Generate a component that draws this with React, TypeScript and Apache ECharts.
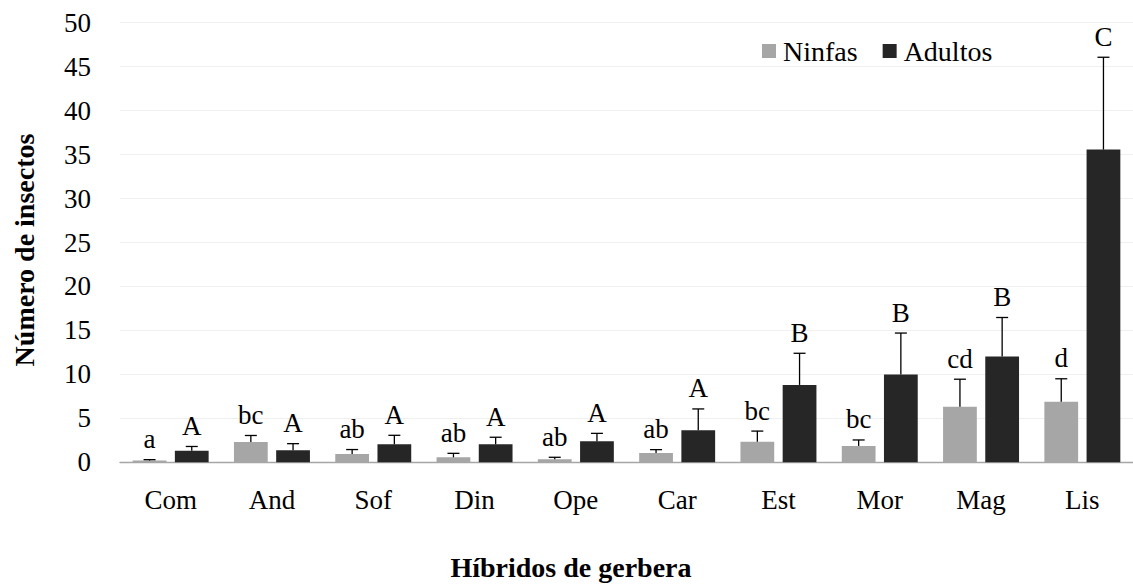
import React, { useEffect, useRef } from "react";
import * as echarts from "echarts";

const categories = ["Com", "And", "Sof", "Din", "Ope", "Car", "Est", "Mor", "Mag", "Lis"];
const ninfas = [0.2, 2.3, 0.95, 0.57, 0.34, 1.06, 2.35, 1.86, 6.33, 6.9];
const ninfasErr = [0.1, 0.75, 0.5, 0.45, 0.23, 0.38, 1.2, 0.68, 3.12, 2.6];
const ninfasLetters = ["a", "bc", "ab", "ab", "ab", "ab", "bc", "bc", "cd", "d"];
const adultos = [1.3, 1.37, 2.05, 2.05, 2.39, 3.64, 8.8, 10.0, 12.03, 35.57];
const adultosErr = [0.5, 0.75, 1.02, 0.8, 0.9, 2.43, 3.6, 4.7, 4.44, 10.5];
const adultosLetters = ["A", "A", "A", "A", "A", "A", "B", "B", "B", "C"];
const yTicks = { min: 0, max: 50, interval: 5 };

const FONT = "Liberation Serif";
const FS = 27;

function makeErrSeries(values: number[], errs: number[], letters: string[], side: number) {
  return {
    type: "custom",
    z: 5,
    silent: true,
    data: values.map((v, i) => [i, v, errs[i]]),
    renderItem: (params: any, api: any) => {
      const idx = api.value(0);
      const v = api.value(1);
      const e = api.value(2);
      const band = api.size([1, 0])[0];
      const barW = (band * 0.75) / 2.25;
      const off = side * (barW * 1.25) / 2;
      const base = api.coord([idx, v]);
      const top = api.coord([idx, v + e]);
      const x = base[0] + off;
      const cap = 6;
      return {
        type: "group",
        children: [
          { type: "line", shape: { x1: x, y1: base[1], x2: x, y2: top[1] }, style: { stroke: "#000", lineWidth: 1.3 } },
          { type: "line", shape: { x1: x - cap, y1: top[1], x2: x + cap, y2: top[1] }, style: { stroke: "#000", lineWidth: 1.3 } },
          {
            type: "text",
            style: {
              text: letters[params.dataIndex],
              x: x,
              y: top[1] - 7,
              align: "center",
              verticalAlign: "bottom",
              fontSize: FS,
              fontFamily: FONT,
              fill: "#000",
            },
          },
        ],
      };
    },
  };
}

export default function App() {
  const ref = useRef<HTMLDivElement>(null);
  useEffect(() => {
    if (!ref.current) return;
    const chart = echarts.init(ref.current, undefined, { renderer: "svg" });
    chart.setOption({
      animation: false,
      backgroundColor: "#fff",
      textStyle: { fontFamily: FONT },
      grid: { left: 120, right: -9, top: 22.7, bottom: 124.7, containLabel: false },
      legend: {
        data: ["Ninfas", "Adultos"],
        left: 762,
        top: 37,
        padding: 0,
        icon: "rect",
        itemWidth: 14,
        itemHeight: 14,
        itemGap: 25,
        textStyle: { fontSize: 28, fontFamily: FONT, color: "#000", padding: [0, 0, 0, 2] },
      },
      xAxis: {
        type: "category",
        data: categories,
        axisTick: { show: false },
        axisLine: { lineStyle: { color: "#a6a6a6", width: 1.3 } },
        axisLabel: { fontSize: FS, fontFamily: FONT, color: "#000", margin: 24 },
      },
      yAxis: {
        type: "value",
        min: yTicks.min,
        max: yTicks.max,
        interval: yTicks.interval,
        axisLine: { show: false },
        axisTick: { show: false },
        splitLine: { lineStyle: { color: "#efefef", width: 1 } },
        axisLabel: { fontSize: FS, fontFamily: FONT, color: "#000", margin: 29 },
      },
      graphic: [
        {
          type: "text",
          x: 571,
          y: 567,
          style: {
            text: "Híbridos de gerbera",
            align: "center",
            verticalAlign: "middle",
            fontSize: 28,
            fontWeight: "bold",
            fontFamily: FONT,
            fill: "#000",
          },
        },
        {
          type: "text",
          x: 24,
          y: 250,
          rotation: Math.PI / 2,
          style: {
            text: "Número de insectos",
            align: "center",
            verticalAlign: "middle",
            fontSize: 28,
            fontWeight: "bold",
            fontFamily: FONT,
            fill: "#000",
          },
        },
      ],
      series: [
        {
          name: "Ninfas",
          type: "bar",
          data: ninfas,
          barGap: "25%",
          barCategoryGap: "25%",
          itemStyle: { color: "#a6a6a6" },
        },
        {
          name: "Adultos",
          type: "bar",
          data: adultos,
          itemStyle: { color: "#262626" },
        },
        makeErrSeries(ninfas, ninfasErr, ninfasLetters, -1),
        makeErrSeries(adultos, adultosErr, adultosLetters, 1),
      ],
    });
    return () => chart.dispose();
  }, []);
  return (
    <div
      ref={ref}
      style={{ position: "fixed", left: 0, top: 0, width: 1133, height: 587 }}
    />
  );
}
